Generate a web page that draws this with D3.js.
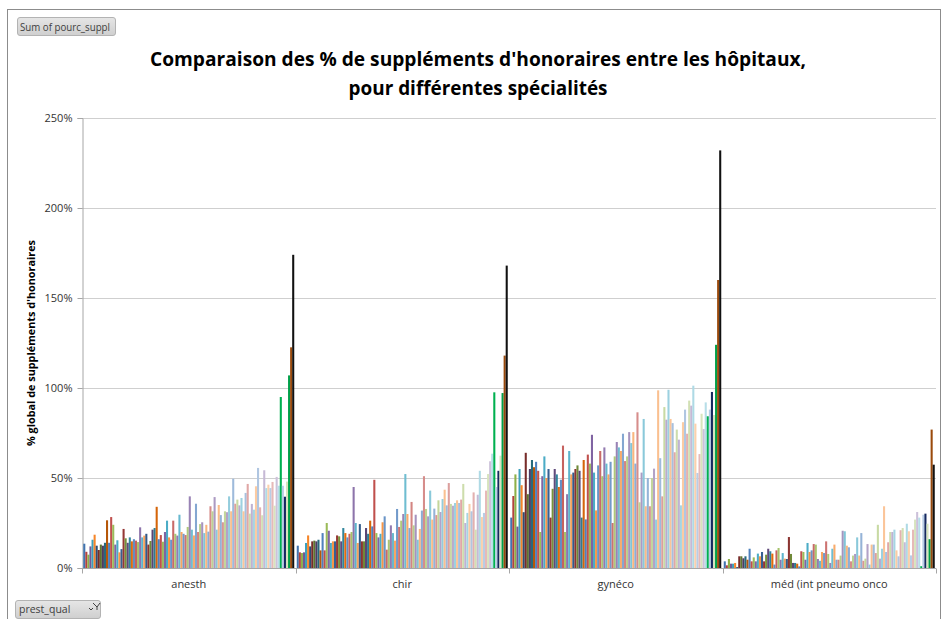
<!DOCTYPE html>
<html><head><meta charset="utf-8">
<script src="https://cdn.jsdelivr.net/npm/d3@7"></script>
<style>body{margin:0;background:#fff;} svg{display:block;font-family:"Open Sans",sans-serif;}</style>
</head><body><svg id="c" width="943" height="619"></svg>
<script>
const categories = ["anesth", "chir", "gynéco", "méd (int pneumo onco"];
const hospitals = Array.from({length: 102}, (_, i) => "H" + (i + 1));
const anesth = [13.5,9,7.4,12,15.7,18.5,12.4,10,13,12.4,14,26.5,14,28.3,24,13,15.4,8.7,10.5,21.7,16.5,14,17,14.8,16,15.2,14.4,22.6,17,18,19,13,15,21.3,22.2,34,16,18.3,14.6,20,26.3,17,15.7,26.3,19,18,29.6,20,19,18.3,
 22.8,39.8,21.3,18.1,35.7,20,24.4,25.4,19.4,24,20.2,34.3,31.5,39.4,21.3,35,29.4,25.4,31.5,31,39.8,31.5,49.6,35.7,38,34.8,38.9,31.5,41.7,46.7,30.2,35.6,32.4,45.4,55.6,33.7,29.3,54.3,44.4,46.3,44.4,47.8,34.6,50.6,45.7,95,45.7,39.6,48,107,122.6,174];
const chir = [12.4,8.7,8.3,8.7,13.9,18.1,12,14.8,15.2,14.8,15.7,9.8,19.4,9.8,25,20.7,13.9,14.8,14.8,18.1,17.6,14.8,22.2,19.4,17,19,20,45,25,13.9,24.4,14.8,14.8,22.2,19,26.3,23.1,49,19.4,17,19,25.4,28.7,10.2,15.7,23.7,19.4,15.2,32.8,22.8,26.3,
 30,52.2,30,22.2,36.7,23.7,29.6,15.7,21.7,31.9,51,32.8,28.7,43,26.9,33,29.4,37.6,31.1,38.3,43.5,34.8,47.2,35.6,34.6,36.1,37.6,36.1,38,46.7,25,30.6,35.6,31.5,42,21.3,40.7,54,28.3,30.6,43,52.2,59.3,63.5,97.6,45,54,62.4,97.2,118,168];
const gyneco = [28,40,52,23,55,46,31,64,41,55,60,56,59,54,20,51,62,50,55,28,44,55,52,45,49,68,20,41,65,52,53,55,57,54,28,60,27,63,58,74,53,32,57,65,51,67,58,52,59,25,62,70,
 67,65,74.6,59.4,62,75.5,69.4,75.5,58,86.5,36.5,53,82.8,34.3,50,34.3,50,55.2,26.9,98.7,61,39.8,89.4,82.4,99,82.8,80.5,64.3,76.9,71.3,34.8,81,88,74.6,93,90.2,101.3,80.2,52.8,63.3,85.7,77.2,92,
 84.3,88,97.8,85,124,160,232];
const med = [3.7,1.5,5,2.4,2.4,2.8,0.5,6.5,6.5,5.4,6.5,4.6,10.7,3.7,5.9,3.7,8,6.5,8.9,3.7,7.4,10.7,9.3,8,1.9,9.8,11.1,4.6,8.3,5.2,5,17.2,7.8,2.8,2.8,2.4,0.9,9.3,8.9,4.6,13.9,8.9,9.8,13.3,13,5,4,8.9,8.3,14.8,7.8,2.8,10.7,
 13,4.6,4.6,6.9,20.7,20.4,12.4,11.5,3.7,6.9,7.8,17,6.9,19.4,4,5.2,13.3,1.9,13,13,8.3,24,5.2,10.7,34.3,8.9,14.3,20,20,21.3,9.8,6.5,21,22.2,14.3,24.6,20.4,7,21.3,26.9,31.1,28,1,29.6,30.2,24.6,16,76.9,57.4];
const seriesValues = [anesth, chir, gyneco, med];
const yTicks = [0, 50, 100, 150, 200, 250];

// styles
const baseColors = ["#4F81BD","#C0504D","#9BBB59","#8064A2","#4BACC6","#F79646"];
const levels = [[0.9,0],[0.6,0],[1,0],[0.75,0],[0.9,0.1],[0.7,0],[1,0],[0.85,0.15],[0.8,0.2],[0.7,0.3],[0.65,0.35],[0.6,0.4],[0.55,0.45],[0.5,0.5],[0.45,0.55],[0.4,0.6],[0.4,0.6]];
const specialColors = {95:"#00B050", 97:"#14285F", 99:"#00A04A", 100:"#9A4A0C", 101:"#111111"};
function colorOf(i){
  if (specialColors[i]) return specialColors[i];
  const c = d3.hsl(baseColors[i % 6]);
  const lv = levels[Math.floor(i / 6)];
  c.l = Math.min(1, c.l * lv[0] + lv[1]);
  return c.formatHex();
}

const svg = d3.select("#c");
const L = 82, R = 936, T = 118, B = 568;

svg.append("rect").attr("x", 7.5).attr("y", 9.5).attr("width", 933).attr("height", 620)
  .attr("fill", "#fff").attr("stroke", "#8c8c8c").attr("stroke-width", 1);

// top button
const btn = svg.append("g");
const grad = svg.append("defs").append("linearGradient").attr("id","bg").attr("x1",0).attr("y1",0).attr("x2",0).attr("y2",1);
grad.append("stop").attr("offset","0%").attr("stop-color","#e6e6e6");
grad.append("stop").attr("offset","100%").attr("stop-color","#cfcfcf");
btn.append("rect").attr("x",17.5).attr("y",17.5).attr("width",98).attr("height",18).attr("rx",2.5)
  .attr("fill","url(#bg)").attr("stroke","#b3b3b3");
btn.append("text").attr("x",20).attr("y",30.5).attr("font-size",10.5).attr("fill","#404040")
  .attr("textLength",90).attr("lengthAdjust","spacingAndGlyphs").text("Sum of pourc_suppl");

// title
svg.append("text").attr("x",478).attr("y",66).attr("text-anchor","middle").attr("font-size",19)
  .attr("font-weight","bold").attr("fill","#000").attr("textLength",656).attr("lengthAdjust","spacingAndGlyphs")
  .text("Comparaison des % de suppléments d'honoraires entre les hôpitaux,");
svg.append("text").attr("x",478).attr("y",95).attr("text-anchor","middle").attr("font-size",19)
  .attr("font-weight","bold").attr("fill","#000").attr("textLength",259).attr("lengthAdjust","spacingAndGlyphs")
  .text("pour différentes spécialités");

const y = d3.scaleLinear().domain([0, 250]).range([B, T]);
const x0 = d3.scaleBand().domain(categories).range([L, R]).paddingInner(0.0117).paddingOuter(0.00585);
const x1 = d3.scaleBand().domain(hospitals).range([0, x0.bandwidth()]).padding(0);

// gridlines
svg.append("g").selectAll("line").data(yTicks.filter(d => d > 0)).join("line")
  .attr("x1", L).attr("x2", R).attr("y1", d => Math.round(y(d)) + 0.5).attr("y2", d => Math.round(y(d)) + 0.5)
  .attr("stroke", "#cfcfcf").attr("stroke-width", 1);

// y axis
const yAxis = d3.axisLeft(y).tickValues(yTicks).tickFormat(d => d + "%").tickSize(5).tickPadding(5);
const ya = svg.append("g").attr("transform", `translate(${L + 0.5},0)`).call(yAxis);
ya.select(".domain").attr("stroke", "#a6a6a6");
ya.selectAll(".tick line").attr("stroke", "#a6a6a6");
ya.selectAll(".tick text").attr("font-size", 11).attr("fill", "#333").attr("font-family", "Open Sans, sans-serif");

// bars
const groups = svg.append("g").selectAll("g").data(categories).join("g")
  .attr("transform", d => `translate(${x0(d)},0)`);
groups.selectAll("rect").data((c, ci) => hospitals.map((h, i) => ({h, i, v: seriesValues[ci][i]}))).join("rect")
  .attr("x", d => x1(d.h)).attr("width", x1.bandwidth())
  .attr("y", d => y(d.v)).attr("height", d => B - y(d.v))
  .attr("fill", d => colorOf(d.i));

// x axis
const xa = svg.append("g").attr("transform", `translate(0,${B + 0.5})`);
xa.append("line").attr("x1", L).attr("x2", R).attr("stroke", "#a6a6a6");
const bounds = [L, ...categories.slice(1).map(c => x0(c) - x0.step() * x0.paddingInner() / 2), R];
xa.selectAll(".tk").data(bounds).join("line").attr("class","tk")
  .attr("x1", d => Math.round(d) + 0.5).attr("x2", d => Math.round(d) + 0.5).attr("y1", 0).attr("y2", 5).attr("stroke", "#a6a6a6");
xa.selectAll("text").data(categories).join("text")
  .attr("x", d => x0(d) + x0.bandwidth() / 2).attr("y", 19).attr("text-anchor", "middle")
  .attr("font-size", 11).attr("fill", "#333").text(d => d);

// y title
svg.append("text").attr("transform", "translate(35,343) rotate(-90)").attr("text-anchor", "middle")
  .attr("font-size", 10.5).attr("font-weight", "bold").attr("fill", "#000")
  .attr("textLength", 206).attr("lengthAdjust","spacingAndGlyphs")
  .text("% global de suppléments d'honoraires");

// bottom button
const b2 = svg.append("g");
b2.append("rect").attr("x",15.5).attr("y",600.5).attr("width",85).attr("height",18).attr("rx",2.5)
  .attr("fill","url(#bg)").attr("stroke","#b3b3b3");
b2.append("text").attr("x",19).attr("y",613).attr("font-size",10.5).attr("fill","#404040").text("prest_qual");
b2.append("path").attr("d","M89,608 l2,2 l2,-2").attr("fill","none").attr("stroke","#404040").attr("stroke-width",1);
b2.append("path").attr("d","M93,603 l4,4 v3 M97,607 l3,-4").attr("fill","none").attr("stroke","#404040").attr("stroke-width",1);
</script></body></html>
